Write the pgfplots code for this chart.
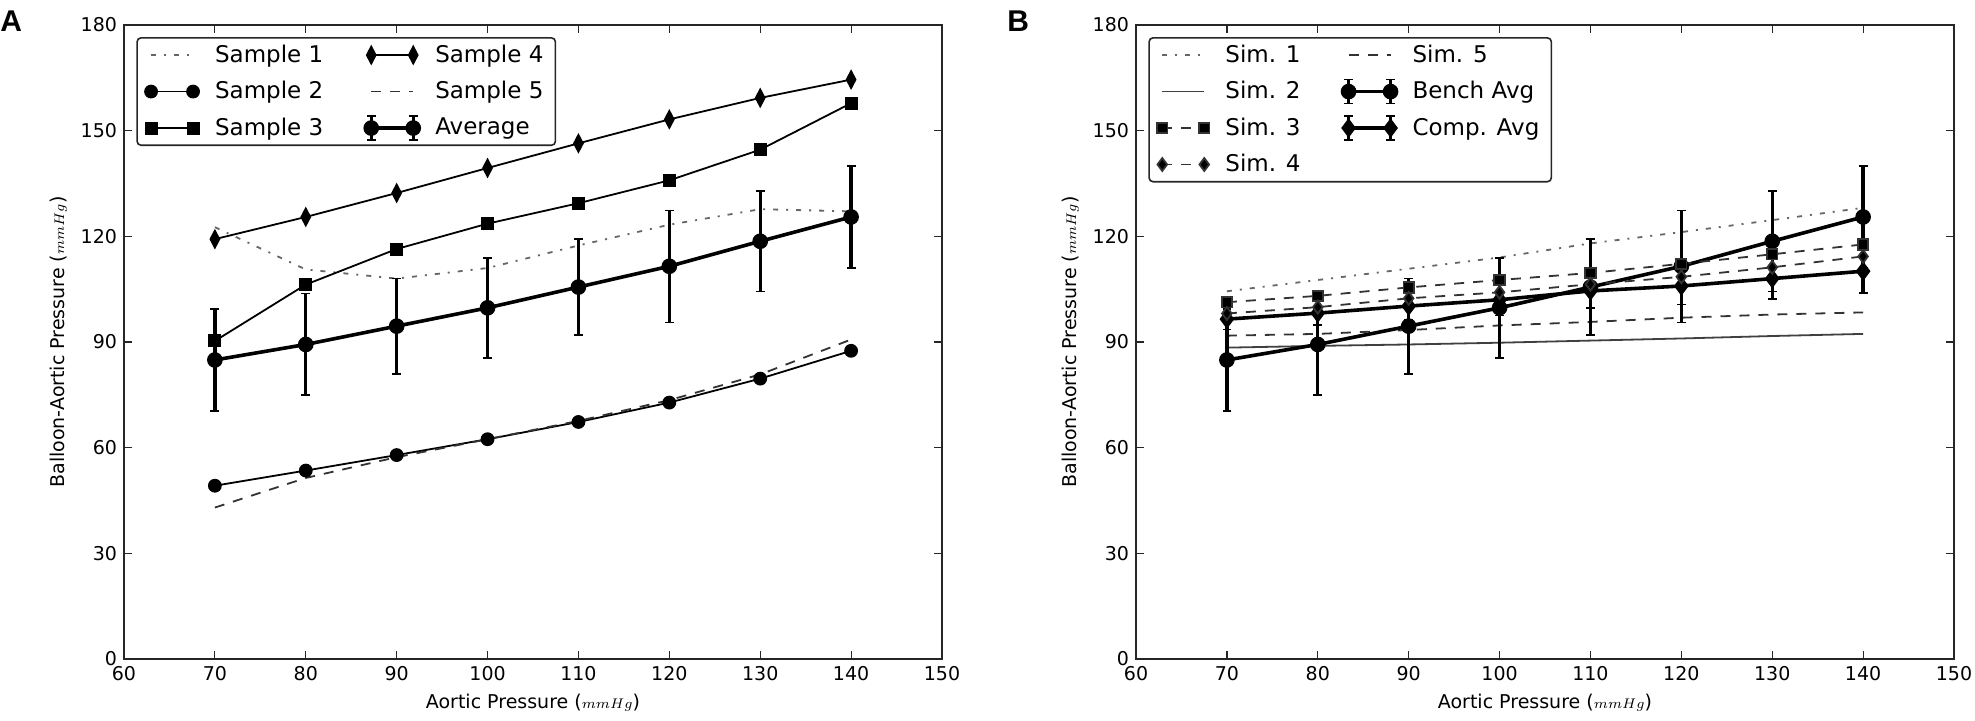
\documentclass[border=0pt]{standalone}
\usepackage{pgfplots}
\pgfplotsset{compat=1.18}
\usepackage{fontspec}
\setmainfont{DejaVu Sans}
\newfontfamily\panelfont{Liberation Sans}

\pgfplotsset{
  myax/.style={
    scale only axis, width=409pt, height=317pt, anchor=south west,
    xmin=60, xmax=150, ymin=0, ymax=180,
    xtick={60,70,...,150}, ytick={0,30,...,180},
    tick align=inside, major tick length=4pt,
    axis line style={line width=0.8pt, black!85},
    tick style={line width=0.6pt, black!85},
    ticklabel style={font=\fontsize{9.5}{11}\selectfont},
    /pgf/number format/assume math mode=true,
    label style={font=\fontsize{9.5}{11}\selectfont},
    xlabel={Aortic Pressure ($\scriptstyle mmHg$)},
    ylabel={Balloon-Aortic Pressure ($\scriptstyle mmHg$)},
    legend columns=2,
    legend cell align=left,
    legend style={at={(0.015,0.981)}, anchor=north west,
      font=\fontsize{11.5}{14}\selectfont,
      draw=black!85, line width=0.8pt, rounded corners=2pt,
      inner xsep=4pt, inner ysep=1.5pt,
      /tikz/row sep=4pt,
      /tikz/every odd column/.append style={column sep=6pt},
      /tikz/every even column/.append style={column sep=19pt}},
    legend image code/.code={\draw[#1] plot coordinates {(0pt,0pt) (21pt,0pt)};},
  },
  thin/.style={black, line width=0.9pt},
  sdashdot/.style={black!60, line width=0.9pt, dash pattern=on 2.5pt off 4pt on 1pt off 4pt, mark=none},
  sdashed/.style={black!80, line width=0.9pt, dash pattern=on 5pt off 4.5pt, mark=none},
  avgstyle/.style={black, line width=1.8pt, mark size=3pt, mark options={solid, fill=black},
    error bars/y dir=both, error bars/y explicit,
    error bars/error bar style={line width=1.7pt, solid},
    error bars/error mark options={rotate=90, line width=0.7pt, mark size=2.2pt}},
  avglegend/.style={legend image code/.code={
    \draw[line width=1.5pt] (0pt,-6pt)--(0pt,6pt) (21pt,-6pt)--(21pt,6pt);
    \draw[line width=0.7pt] (-2.2pt,6pt)--(2.2pt,6pt) (-2.2pt,-6pt)--(2.2pt,-6pt)
       (18.8pt,6pt)--(23.2pt,6pt) (18.8pt,-6pt)--(23.2pt,-6pt);
    \draw[##1] plot coordinates {(0pt,0pt) (21pt,0pt)};}},
}

\begin{document}
\begin{tikzpicture}
\path[use as bounding box] (0pt,0pt) rectangle (987.5pt,360pt);
\node[anchor=north west, inner sep=0pt, font=\panelfont\bfseries\fontsize{15}{15}\selectfont] at (0pt,355pt) {A};
\node[anchor=north west, inner sep=0pt, font=\panelfont\bfseries\fontsize{15}{15}\selectfont] at (503.5pt,355pt) {B};

% ---------------- Panel A ----------------
\begin{axis}[myax, at={(62pt,30.5pt)}]
\addplot[sdashdot] coordinates {(70,122.6) (80,110.6) (90,108.0) (100,111.0) (110,117.4) (120,123.3) (130,127.7) (140,127.1)};
\addlegendentry{Sample 1}
\addplot[thin, mark=diamond*, mark size=4.2pt, mark options={solid, fill=black, xscale=0.7}] coordinates {(70,119.2) (80,125.5) (90,132.3) (100,139.4) (110,146.4) (120,153.2) (130,159.3) (140,164.5)};
\addlegendentry{Sample 4}
\addplot[thin, mark=*, mark size=3pt] coordinates {(70,49.2) (80,53.5) (90,57.9) (100,62.4) (110,67.3) (120,72.8) (130,79.6) (140,87.5)};
\addlegendentry{Sample 2}
\addplot[sdashed] coordinates {(70,43.0) (80,51.4) (90,57.3) (100,62.4) (110,67.6) (120,73.5) (130,80.8) (140,90.7)};
\addlegendentry{Sample 5}
\addplot[thin, mark=square*, mark size=2.8pt] coordinates {(70,90.3) (80,106.3) (90,116.4) (100,123.6) (110,129.4) (120,135.9) (130,144.6) (140,157.8)};
\addlegendentry{Sample 3}
\addplot[mark=*, avgstyle, avglegend] coordinates {
 (70,84.9) +- (0,14.5) (80,89.3) +- (0,14.4) (90,94.5) +- (0,13.6) (100,99.7) +- (0,14.2)
 (110,105.6) +- (0,13.6) (120,111.5) +- (0,15.9) (130,118.6) +- (0,14.3) (140,125.5) +- (0,14.5)};
\addlegendentry{Average}
\end{axis}

% ---------------- Panel B ----------------
\begin{axis}[myax, at={(568pt,30.5pt)}]
\addplot[sdashdot] coordinates {(70,104.4) (80,107.6) (90,110.8) (100,114.0) (110,118.0) (120,121.2) (130,124.6) (140,128.1)};
\addlegendentry{Sim. 1}
\addplot[sdashed] coordinates {(70,91.8) (80,92.3) (90,93.4) (100,94.7) (110,95.7) (120,96.9) (130,97.8) (140,98.4)};
\addlegendentry{Sim. 5}
\addplot[black!75, line width=0.9pt] coordinates {(70,88.4) (80,88.9) (90,89.3) (100,89.8) (110,90.4) (120,91.0) (130,91.7) (140,92.3)};
\addlegendentry{Sim. 2}
\addplot[mark=*, avgstyle, avglegend] coordinates {
 (70,84.9) +- (0,14.5) (80,89.3) +- (0,14.4) (90,94.5) +- (0,13.6) (100,99.7) +- (0,14.2)
 (110,105.6) +- (0,13.6) (120,111.5) +- (0,15.9) (130,118.6) +- (0,14.3) (140,125.5) +- (0,14.5)};
\addlegendentry{Bench Avg}
\addplot[sdashed, mark=square*, mark size=2.6pt, mark options={solid, fill=black}] coordinates {(70,101.3) (80,103.1) (90,105.5) (100,107.6) (110,109.6) (120,112.2) (130,114.9) (140,117.7)};
\addlegendentry{Sim. 3}
\addplot[mark=diamond*, avgstyle, mark size=3.4pt, avglegend] coordinates {
 (70,96.5) +- (0,3.0) (80,98.2) +- (0,3.4) (90,100.2) +- (0,3.9) (100,102.0) +- (0,4.4)
 (110,104.5) +- (0,4.9) (120,105.9) +- (0,5.3) (130,108.0) +- (0,5.8) (140,110.1) +- (0,6.2)};
\addlegendentry{Comp. Avg}
\addplot[sdashed, mark=diamond*, mark size=3.2pt, mark options={solid, fill=black}] coordinates {(70,98.1) (80,99.9) (90,102.4) (100,104.1) (110,106.4) (120,108.5) (130,111.2) (140,114.3)};
\addlegendentry{Sim. 4}
\end{axis}
\end{tikzpicture}
\end{document}
